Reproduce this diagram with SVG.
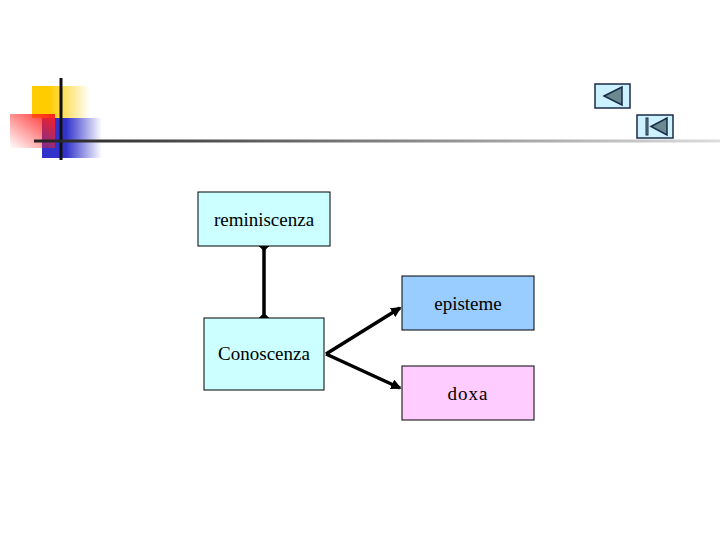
<svg xmlns="http://www.w3.org/2000/svg" width="720" height="540" viewBox="0 0 720 540">
<style>
.box{stroke:#000;stroke-width:1}
.t{font-family:"Liberation Serif",serif;font-size:19px;text-anchor:middle;fill:#000}
.c{stroke:#000;stroke-width:3.5;fill:none}
.btn{fill:#ccf2ff;stroke:#1a2a4a;stroke-width:1.5}
.tri{fill:#6b8a8f;stroke:#1a2a4a;stroke-width:1.5}
</style>
<defs>
<linearGradient id="gy" x1="0" x2="1"><stop offset="0.3" stop-color="#ffcc00"/><stop offset="1" stop-color="#ffcc00" stop-opacity="0"/></linearGradient>
<linearGradient id="gb" x1="0" x2="1"><stop offset="0.4" stop-color="#3333cc"/><stop offset="1" stop-color="#3333cc" stop-opacity="0"/></linearGradient>
<linearGradient id="gr" x1="1" y1="0" x2="0" y2="1"><stop offset="0" stop-color="#ff2020"/><stop offset="1" stop-color="#ff2020" stop-opacity="0"/></linearGradient>
<linearGradient id="gl" x1="0" x2="1"><stop offset="0" stop-color="#222"/><stop offset="1" stop-color="#ddd"/></linearGradient>
<marker id="ar" markerWidth="3" markerHeight="3" refX="2.5" refY="1.5" orient="auto"><path d="M0,0L3,1.5L0,3z" fill="#000"/></marker>
<marker id="dm" markerWidth="3" markerHeight="3" refX="1.5" refY="1.5" orient="auto"><path d="M1.5,0L3,1.5L1.5,3L0,1.5z" fill="#000"/></marker>
</defs>
<g id="decor">
<rect x="32" y="86" width="58" height="32" fill="url(#gy)"/>
<rect x="42" y="118" width="60" height="40" fill="url(#gb)"/>
<rect x="10" y="114" width="45" height="34" fill="url(#gr)"/>
<line x1="61" y1="78" x2="61" y2="160" stroke="#111" stroke-width="3"/>
<rect x="34" y="139.5" width="686" height="3" fill="url(#gl)"/>
</g>
<g id="buttons">
<rect class="btn" x="595" y="84" width="35" height="24"/>
<path class="tri" d="M604,96L622,87V105z"/>
<rect class="btn" x="637" y="115" width="36" height="23"/>
<rect x="646" y="118" width="2" height="17" fill="#6b8a8f" stroke="#1a2a4a"/>
<path class="tri" d="M651,126.5L667,118V135z"/>
</g>
<g id="connectors">
<line class="c" x1="264" y1="246" x2="264" y2="318" marker-start="url(#dm)" marker-end="url(#dm)"/>
<line class="c" x1="326" y1="354" x2="400" y2="308" marker-end="url(#ar)"/>
<line class="c" x1="326" y1="354" x2="400" y2="388" marker-end="url(#ar)"/>
</g>
<g id="reminiscenza"><rect class="box" x="198" y="192" width="132" height="54" fill="#ccffff"/><text class="t" x="264" y="226">reminiscenza</text></g>
<g id="conoscenza"><rect class="box" x="204" y="318" width="120" height="72" fill="#ccffff"/><text class="t" x="264" y="360">Conoscenza</text></g>
<g id="episteme"><rect class="box" x="402" y="276" width="132" height="54" fill="#99ccff"/><text class="t" x="468" y="310">episteme</text></g>
<g id="doxa"><rect class="box" x="402" y="366" width="132" height="54" fill="#ffccff"/><text class="t" x="468" y="400" letter-spacing="1">doxa</text></g>
</svg>
